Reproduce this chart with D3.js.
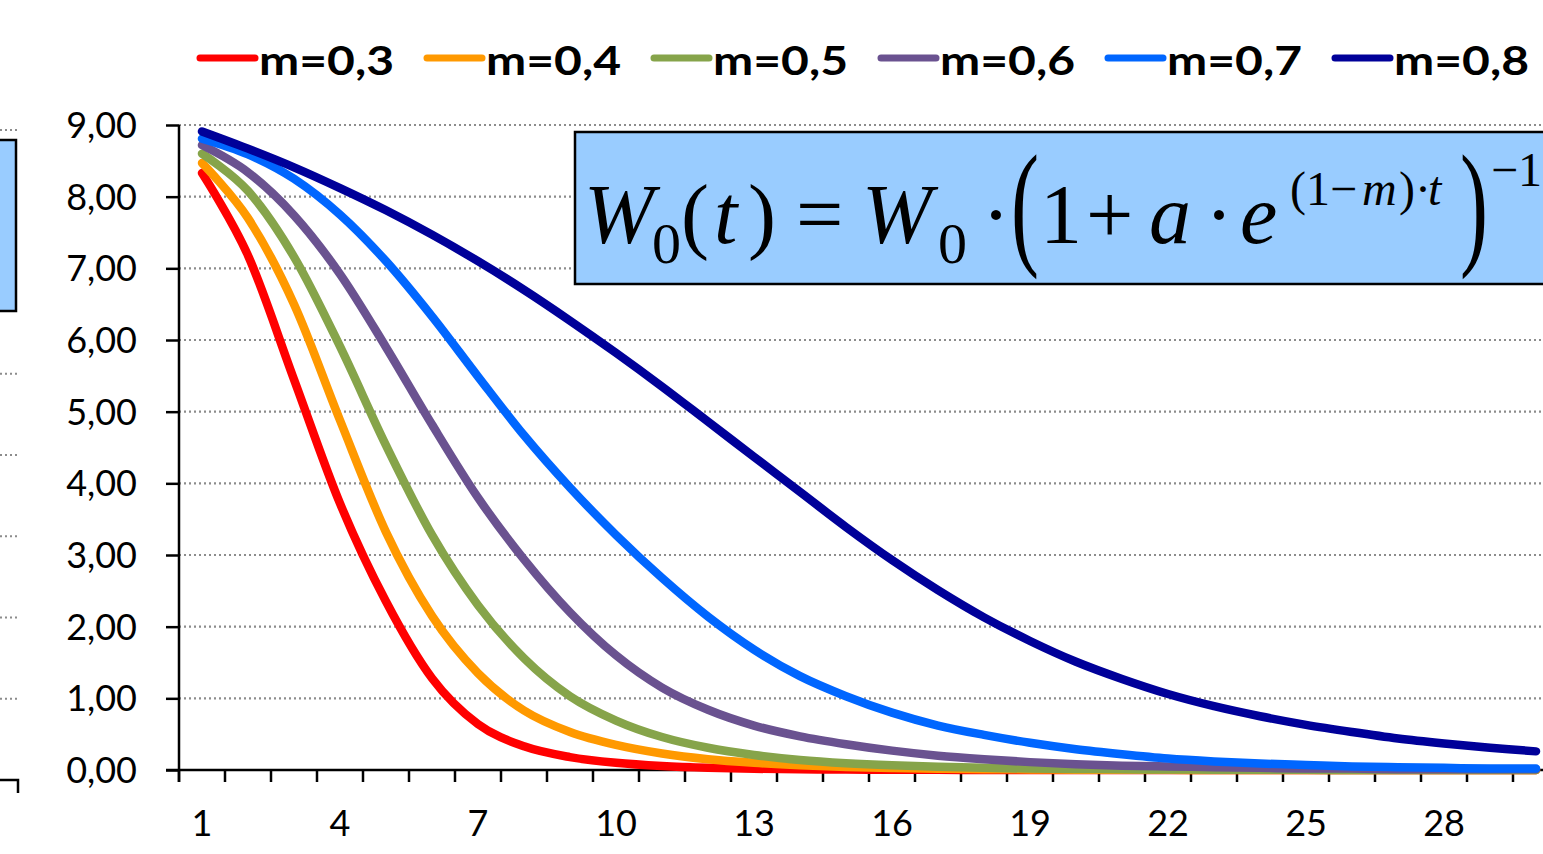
<!DOCTYPE html>
<html>
<head>
<meta charset="utf-8">
<script src="https://cdnjs.cloudflare.com/ajax/libs/d3/7.8.5/d3.min.js"></script>
<style>
body { margin: 0; background: #fff; overflow: hidden; }
svg { display: block; }
</style>
</head>
<body>
<svg id="chart" width="1543" height="854"></svg>
<script>
const days = [1,2,3,4,5,6,7,8,9,10,11,12,13,14,15,16,17,18,19,20,21,22,23,24,25,26,27,28,29,30]
const xLabels = [1,4,7,10,13,16,19,22,25,28]
const yTicks = [0,1,2,3,4,5,6,7,8,9]
const names = ["m=0,3","m=0,4","m=0,5","m=0,6","m=0,7","m=0,8"]
const colors = ["#ff0000","#ff9900","#86a44a","#6a5290","#0066ff","#000099"]

const m03 = [8.33,7.18,5.45,3.72,2.35,1.28,0.64,0.33,0.18,0.10,0.055,0.03,0.017,0.01,0.006,0.004,0.002,0.001,0,0,0,0,0,0,0,0,0,0,0,0]
const m04 = [8.47,7.70,6.50,4.88,3.32,2.15,1.35,0.83,0.53,0.35,0.23,0.15,0.10,0.065,0.042,0.028,0.018,0.012,0.008,0.005,0.003,0.002,0.001,0,0,0,0,0,0,0]
const m05 = [8.60,8.08,7.16,5.91,4.53,3.28,2.30,1.56,1.03,0.69,0.46,0.31,0.21,0.14,0.095,0.065,0.045,0.03,0.02,0.015,0.01,0.007,0.005,0.003,0.002,0.001,0,0,0,0]
const m06 = [8.72,8.34,7.74,6.92,5.90,4.82,3.80,2.94,2.20,1.60,1.15,0.84,0.62,0.47,0.36,0.27,0.20,0.15,0.11,0.08,0.06,0.05,0.04,0.03,0.02,0.02,0.01,0.01,0.01,0.01]
const m07 = [8.81,8.59,8.25,7.75,7.10,6.33,5.49,4.67,3.94,3.28,2.68,2.14,1.68,1.31,1.03,0.80,0.62,0.49,0.38,0.29,0.22,0.16,0.12,0.09,0.07,0.05,0.04,0.03,0.02,0.02]
const m08 = [8.91,8.67,8.41,8.12,7.81,7.47,7.10,6.70,6.27,5.82,5.35,4.86,4.37,3.88,3.39,2.93,2.51,2.13,1.80,1.51,1.27,1.06,0.89,0.75,0.63,0.53,0.44,0.37,0.31,0.26]
const series = [m03, m04, m05, m06, m07, m08]

const svg = d3.select("#chart")
const plotLeft = 179, plotTop = 125, plotBottom = 770, band = 46

const x = d3.scaleBand().domain(days).range([plotLeft, plotLeft + band * days.length]).padding(0)
const y = d3.scaleLinear().domain([0, 9]).range([plotBottom, plotTop])
const cx = d => x(d) + x.bandwidth() / 2

// piece of the neighbouring chart, cut by the page edge
const yl = d3.scaleLinear().domain([0, 8]).range([780, 130])
svg.append("g").selectAll("line")
	.data([1,2,3,4,5,6,8])
	.join("line")
	.attr("x1", 0).attr("x2", 18)
	.attr("y1", d => yl(d)).attr("y2", d => yl(d))
	.attr("stroke", "#8c8c8c").attr("stroke-width", 2.2).attr("stroke-dasharray", "2,3")
svg.append("rect").attr("x", -4).attr("y", 140).attr("width", 20).attr("height", 171)
	.attr("fill", "#99ccff").attr("stroke", "#000").attr("stroke-width", 2.5)
svg.append("path").attr("d", "M0,780H18V793").attr("fill", "none").attr("stroke", "#000").attr("stroke-width", 2.5)

// grid
svg.append("g").selectAll("line")
	.data(yTicks.filter(d => d > 0))
	.join("line")
	.attr("x1", plotLeft).attr("x2", 1543)
	.attr("y1", d => y(d)).attr("y2", d => y(d))
	.attr("stroke", "#8c8c8c").attr("stroke-width", 2.2).attr("stroke-dasharray", "2,3")

// formula box
svg.append("rect").attr("x", 575).attr("y", 132).attr("width", 1000).attr("height", 152)
	.attr("fill", "#99ccff").attr("stroke", "#000").attr("stroke-width", 2.5)

const f = svg.append("g").attr("font-family", "'Liberation Serif', 'Times New Roman', serif").attr("fill", "#000")
function piece(t, px, py, size, italic, sy) {
	let el = f.append("text").text(t).attr("font-size", size).attr("font-style", italic ? "italic" : "normal")
	if (sy) el.attr("transform", `translate(${px},${py}) scale(1,${sy})`)
	else el.attr("x", px).attr("y", py)
	return el
}
piece("W", 584, 243, 84, true)
piece("0", 652, 263, 58, false)
piece("(", 681, 243, 84, false)
piece("t", 714, 243, 84, true)
piece(")", 748, 243, 84, false)
piece("=", 796, 243, 84, false)
piece("W", 862, 243, 84, true)
piece("0", 938, 263, 58, false)
piece("·", 982, 243, 84, false)
piece("(", 1011, 250, 84, false, 1.65)
piece("1", 1040, 243, 84, false)
piece("+", 1086, 243, 84, false)
piece("a", 1149, 243, 84, true)
piece("·", 1205, 243, 84, false)
piece("e", 1240, 243, 84, true)
piece("(1−", 1290, 205, 48, false)
piece("m", 1362, 205, 48, true)
piece(")·", 1399, 205, 48, false)
piece("t", 1428, 205, 48, true)
piece(")", 1460, 250, 84, false, 1.65)
piece("−1", 1491, 186, 48, false)

// axes
const yAxis = d3.axisLeft(y).tickValues(yTicks).tickSize(13).tickPadding(29)
	.tickFormat(d => d3.format(".2f")(d).replace(".", ","))
const ya = svg.append("g").attr("transform", `translate(${plotLeft},0)`).call(yAxis)
ya.select(".domain").remove()
ya.selectAll(".tick line").attr("stroke", "#000").attr("stroke-width", 2.5)
ya.selectAll(".tick text").attr("font-family", "Lato, 'Open Sans', sans-serif").attr("font-size", 36).attr("fill", "#000").attr("dy", "0.35em")

svg.append("line").attr("x1", plotLeft).attr("x2", plotLeft).attr("y1", plotTop).attr("y2", plotBottom + 12)
	.attr("stroke", "#000").attr("stroke-width", 2.5)
svg.append("line").attr("x1", plotLeft - 13).attr("x2", 1543).attr("y1", plotBottom).attr("y2", plotBottom)
	.attr("stroke", "#000").attr("stroke-width", 2.5)
svg.append("g").selectAll("line")
	.data(days)
	.join("line")
	.attr("x1", d => x(d)).attr("x2", d => x(d))
	.attr("y1", plotBottom).attr("y2", plotBottom + 12)
	.attr("stroke", "#000").attr("stroke-width", 2.5)

const xAxis = d3.axisBottom(x).tickValues(xLabels).tickSize(0).tickPadding(40)
const xa = svg.append("g").attr("transform", `translate(0,${plotBottom})`).call(xAxis)
xa.select(".domain").remove()
xa.selectAll(".tick text").attr("font-family", "Lato, 'Open Sans', sans-serif").attr("font-size", 36).attr("fill", "#000").attr("dy", "0.71em")

// curves (uniform catmull-rom, close to excel smoothing)
const line = d3.line().x((d, i) => cx(days[i])).y(d => y(d)).curve(d3.curveCatmullRom.alpha(0))
svg.append("g").selectAll("path")
	.data(series)
	.join("path")
	.attr("d", line)
	.attr("fill", "none")
	.attr("stroke", (d, i) => colors[i])
	.attr("stroke-width", 8.5)
	.attr("stroke-linecap", "round")
	.attr("stroke-linejoin", "round")

// legend
const lg = svg.append("g").selectAll("g")
	.data(names)
	.join("g")
	.attr("transform", (d, i) => `translate(${200 + i * 227},58)`)
lg.append("line").attr("x1", 0).attr("x2", 55)
	.attr("stroke", (d, i) => colors[i]).attr("stroke-width", 7).attr("stroke-linecap", "round")
lg.append("text").text(d => d)
	.attr("x", 59).attr("y", 17)
	.attr("font-family", "Lato, 'Open Sans', sans-serif").attr("font-weight", "bold").attr("font-size", 41)
	.attr("textLength", 135).attr("lengthAdjust", "spacingAndGlyphs")
</script>
</body>
</html>
